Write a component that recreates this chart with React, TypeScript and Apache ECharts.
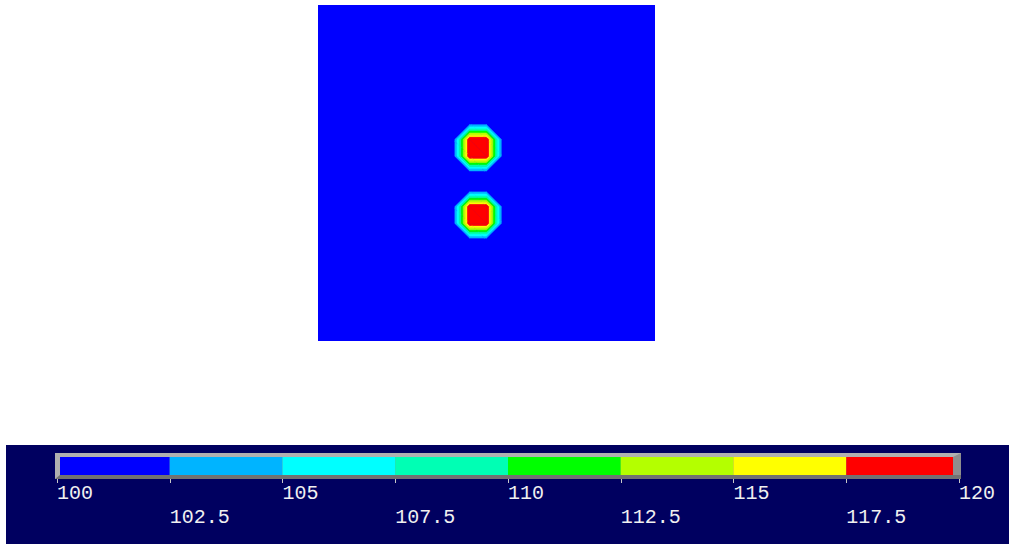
import React, { useEffect, useRef } from "react";
import * as echarts from "echarts";

// ---- data ----
const GRID_CELLS = 20; // cells per side of the field (21 x 21 nodes)
const BASE_VALUE = 100;
const PEAK_VALUE = 120;
// nodes [column, row from top] that carry the peak value
const PEAK_NODES: number[][] = [
  [9, 8], [10, 8], [9, 9], [10, 9],
  [9, 12], [10, 12], [9, 13], [10, 13],
];
const BAND_EDGES = [100, 102.5, 105, 107.5, 110, 112.5, 115, 117.5, 120];
const BAND_COLORS = [
  "#0000ff", "#00b4ff", "#00ffff", "#00ffb4",
  "#00ff00", "#b4ff00", "#ffff00", "#ff0000",
];
const SCALE_MIN = 100;
const SCALE_MAX = 120;
const SCALE_STEP = 2.5;

const peakSet = new Set(PEAK_NODES.map((p) => p[0] + "," + p[1]));
function nodeValue(i: number, j: number): number {
  return peakSet.has(i + "," + j) ? PEAK_VALUE : BASE_VALUE;
}

const cells: number[][] = [];
for (let j = 0; j < GRID_CELLS; j++) {
  for (let i = 0; i < GRID_CELLS; i++) cells.push([i, j]);
}
const segments: number[][] = BAND_COLORS.map((_, k) => [BAND_EDGES[k], BAND_EDGES[k + 1], k]);

type V = { x: number; y: number; v: number };

function clip(poly: V[], g: (v: number) => number): V[] {
  const out: V[] = [];
  const n = poly.length;
  for (let k = 0; k < n; k++) {
    const A = poly[k];
    const B = poly[(k + 1) % n];
    const gA = g(A.v);
    const gB = g(B.v);
    if (gA >= 0) out.push(A);
    if ((gA >= 0 && gB < 0) || (gA < 0 && gB >= 0)) {
      const t = gA / (gA - gB);
      out.push({ x: A.x + (B.x - A.x) * t, y: A.y + (B.y - A.y) * t, v: A.v + (B.v - A.v) * t });
    }
  }
  return out;
}

function area(p: V[]): number {
  let s = 0;
  for (let k = 0; k < p.length; k++) {
    const a = p[k];
    const b = p[(k + 1) % p.length];
    s += a.x * b.y - b.x * a.y;
  }
  return Math.abs(s) / 2;
}

function renderContourCell(params: any, api: any) {
  const i = api.value(0);
  const j = api.value(1);
  const mk = (ii: number, jj: number): V => {
    const p = api.coord([ii, jj]);
    return { x: p[0], y: p[1], v: nodeValue(ii, jj) };
  };
  const a = mk(i, j);
  const b = mk(i + 1, j);
  const c = mk(i + 1, j + 1);
  const d = mk(i, j + 1);
  const children: any[] = [];
  // lowest band is the field's background colour (grid background); only higher bands are drawn
  if (Math.max(a.v, b.v, c.v, d.v) <= BAND_EDGES[1]) return { type: "group", children };
  const tris =
    Math.abs(a.v - c.v) <= Math.abs(b.v - d.v)
      ? [[a, b, c], [a, c, d]]
      : [[a, b, d], [b, c, d]];
  for (const tri of tris) {
    for (let k = 1; k < BAND_COLORS.length; k++) {
      const lo = BAND_EDGES[k];
      const hi = BAND_EDGES[k + 1];
      let poly = clip(tri, (v) => v - lo);
      if (poly.length < 3) continue;
      poly = clip(poly, (v) => hi - v + (k === BAND_COLORS.length - 1 ? 1e-9 : 0));
      if (poly.length < 3 || area(poly) < 0.01) continue;
      children.push({
        type: "polygon",
        shape: { points: poly.map((p) => [p.x, p.y]) },
        style: { fill: BAND_COLORS[k], stroke: BAND_COLORS[k], lineWidth: 0.6 },
      });
    }
  }
  return { type: "group", children };
}

function renderFrame(params: any, api: any) {
  const x0 = api.coord([api.value(0), 1])[0];
  const x1 = api.coord([api.value(1), 1])[0];
  const top = api.coord([SCALE_MIN, 1])[1];
  const bottom = api.coord([SCALE_MIN, 0])[1];
  const L = x0 - 2;
  const R = x1 + 2;
  const T = top - 4;
  const B = bottom + 4;
  return {
    type: "group",
    children: [
      { type: "rect", shape: { x: L, y: T, width: R - L, height: B - T }, style: { fill: "#8e8e8e" } },
      { type: "rect", shape: { x: L, y: B - 4, width: R - L, height: 4 }, style: { fill: "#727272" } },
      {
        type: "polygon",
        shape: { points: [[L, T], [R, T], [R - 8, T + 4], [L + 5, T + 4], [L + 5, B - 4], [L, B]] },
        style: { fill: "#b0b0b0" },
      },
    ],
  };
}

function renderSegment(params: any, api: any) {
  const lo = api.value(0);
  const hi = api.value(1);
  const k = api.value(2);
  const innerL = api.coord([SCALE_MIN, 1])[0] + 3;
  const innerR = api.coord([SCALE_MAX, 1])[0] - 6;
  const x0 = Math.max(api.coord([lo, 1])[0], innerL);
  const x1 = Math.min(api.coord([hi, 1])[0], innerR);
  const top = api.coord([lo, 1])[1];
  const bottom = api.coord([lo, 0])[1];
  return {
    type: "rect",
    shape: { x: x0, y: top, width: x1 - x0, height: bottom - top },
    style: { fill: BAND_COLORS[k] },
  };
}

export default function App() {
  const ref = useRef<HTMLDivElement>(null);
  useEffect(() => {
    if (!ref.current) return;
    const chart = echarts.init(ref.current, undefined, { renderer: "svg" });
    chart.setOption({
      animation: false,
      backgroundColor: "transparent",
      graphic: [
        {
          type: "rect",
          left: 6,
          top: 445,
          z: -10,
          silent: true,
          shape: { width: 1003, height: 99 },
          style: { fill: "#000060" },
        },
      ],
      grid: [
        {
          left: 318, top: 5, width: 337, height: 336,
          show: true, backgroundColor: BAND_COLORS[0], borderWidth: 0,
        },
        { left: 57, top: 457, width: 902, height: 18 },
      ],
      xAxis: [
        { gridIndex: 0, type: "value", min: 0, max: GRID_CELLS, show: false },
        {
          gridIndex: 1,
          type: "value",
          min: SCALE_MIN,
          max: SCALE_MAX,
          interval: SCALE_STEP,
          position: "bottom",
          axisLine: { show: false },
          splitLine: { show: false },
          axisTick: { show: true, length: 8, lineStyle: { color: "#c8c8c8", width: 1 } },
          axisLabel: {
            margin: 6,
            align: "left",
            color: "#f0f0f0",
            fontFamily: "Liberation Mono",
            fontSize: 20,
            lineHeight: 24,
            formatter: (v: number) => (Number.isInteger(v) ? String(v) : "\n" + v),
          },
        },
      ],
      yAxis: [
        { gridIndex: 0, type: "value", min: 0, max: GRID_CELLS, inverse: true, show: false },
        { gridIndex: 1, type: "value", min: 0, max: 1, show: false },
      ],
      series: [
        {
          type: "custom",
          xAxisIndex: 0,
          yAxisIndex: 0,
          silent: true,
          clip: true,
          data: cells,
          encode: { x: 0, y: 1 },
          renderItem: renderContourCell,
        },
        {
          type: "custom",
          xAxisIndex: 1,
          yAxisIndex: 1,
          silent: true,
          data: [[SCALE_MIN, SCALE_MAX]],
          encode: { x: [0, 1] },
          renderItem: renderFrame,
        },
        {
          type: "custom",
          xAxisIndex: 1,
          yAxisIndex: 1,
          silent: true,
          data: segments,
          encode: { x: [0, 1] },
          renderItem: renderSegment,
        },
      ],
    });
    return () => chart.dispose();
  }, []);
  return (
    <div
      ref={ref}
      style={{ position: "absolute", left: 0, top: 0, width: 1009, height: 544 }}
    />
  );
}
